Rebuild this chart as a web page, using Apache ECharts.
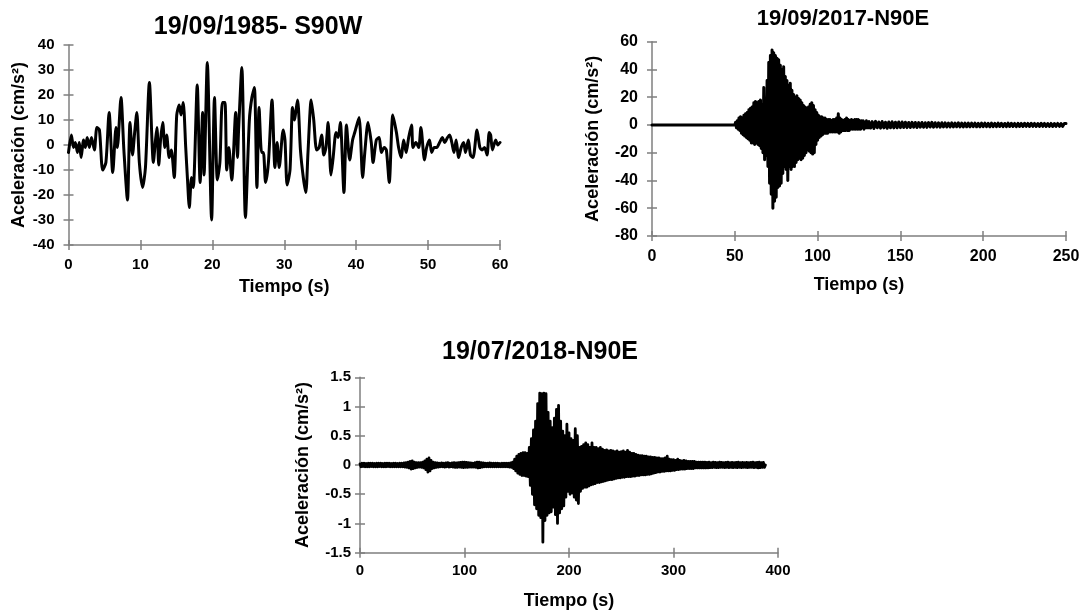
<!DOCTYPE html>
<html>
<head>
<meta charset="utf-8">
<title>Acelerogramas</title>
<script src="https://cdn.jsdelivr.net/npm/echarts@6/dist/echarts.min.js"></script>
<style>
  html, body { margin: 0; padding: 0; background: #fff; }
  #chart { width: 1088px; height: 612px; }
</style>
</head>
<body>
<div id="chart"></div>
<script>
// ---- 19/09/1985 S90W : time (s) and acceleration (cm/s²) at each turning point ----
const time1985 = [
  0,0.4,0.7,0.95,1.25,1.5,1.75,2.1,2.35,2.6,
  2.9,3.2,3.6,3.95,4.3,4.75,5.2,5.65,6.15,6.6,
  6.8,7.3,7.7,8.2,8.55,8.9,9.2,9.5,9.85,10.3,
  10.7,11.25,11.8,12.1,12.3,12.55,12.8,13.1,13.4,13.65,
  14.0,14.3,14.7,15.05,15.4,15.65,15.95,16.3,16.55,16.8,
  17.1,17.35,17.9,18.3,18.65,18.85,19.3,19.9,20.3,20.7,
  21.05,21.4,21.75,22.0,22.3,22.7,23.25,23.5,23.65,24.1,
  24.6,25.15,25.5,25.85,26.2,26.5,26.85,27.1,27.4,27.8,
  28.3,28.7,29.0,29.3,29.85,30.1,30.4,30.8,31.15,31.4,
  31.85,32.25,32.65,33.0,33.3,33.75,34.1,34.5,34.85,35.2,
  35.5,35.8,36.1,36.5,36.8,37.2,37.5,37.8,38.3,38.65,
  39.1,39.5,39.8,40.4,40.9,41.2,41.65,42.1,42.35,42.8,
  43.2,43.5,43.9,44.2,44.6,45.1,45.6,45.9,46.25,46.6,
  46.95,47.3,47.7,47.9,48.3,48.7,49.0,49.5,49.8,50.2,
  50.5,50.85,51.2,51.6,52.0,52.3,52.7,53.0,53.3,53.6,
  53.9,54.25,54.6,54.95,55.2,55.6,55.9,56.25,56.8,57.2,
  57.5,57.85,58.2,58.5,58.7,58.95,59.4,59.7,60
];
const acc1985 = [
  -3,4,-1,1,-3,1,-5,2,-1,3,
  -1,3,-2,7,6,-10,-7,13,-11,7,
  -1,19,-2,-22,9,-4,5,13,-7,-17,
  -9,25,-7,2,7,-8,2,9,-1,4,
  -5,-2,-13,12,16,12,17,-1,-14,-25,
  -13,-17,24,-15,13,-12,33,-30,19,-14,
  -7,17,17,-10,-1,-14,13,-5,6,31,
  -29,10,19,23,-17,15,-3,-3,-15,-7,
  18,-9,1,-9,6,2,-16,-10,15,10,
  18,-2,-13,-19,-3,18,10,-2,-1,4,
  -4,-1,9,-12,-5,5,3,9,-19,8,
  -6,2,5,11,-13,-3,9,1,-7,2,
  3,-3,-1,-2,-15,12,5,-1,-5,2,
  -3,3,8,-1,1,-1,7,-6,-1,2,
  -3,-1,-1,1,3,1,3,4,1,-3,
  2,-5,-1,1,-3,2,-4,-5,6,-1,
  -2,-1,-4,5,4,-2,2,0,1
];

// ---- 19/09/2017 N90E : peak values, evenly sampled per record segment ----
// before arrival: 0 and 50 s
const acc2017Pre = [0, 0];
// strong motion: 50.5–130.5 s, every 0.5 s
const acc2017Main = [
  2,-2, 3,-3, 5,-4, 6,-6, 5,-7, 7,-8, 8,-9, 9,-10, 11,-11, 12,-13,
  13,-13, 16,-14, 17,-13, 16,-14, 17,-15, 18,-17, 15,-20, 27,-25, 16,-22, 32,-30,
  45,-42, 50,-50, 54,-60, 52,-55, 50,-52, 48,-45, 47,-44, 43,-42, 40,-35, 42,-30,
  35,-32, 32,-40, 28,-30, 30,-32, 25,-30, 22,-30, 20,-27, 21,-25, 19,-24, 18,-25,
  16,-24, 14,-22, 13,-20, 12,-18, 13,-19, 15,-20, 16,-21, 14,-20, 11,-14, 9,-11,
  7,-9, 6,-8, 6,-7, 5,-6, 5,-6, 4,-6, 4,-5, 4,-5, 3,-5, 4,-5,
  4,-5, 5,-5, 8,-6, 5,-5, 4,-4, 3,-4, 4,-4, 5,-4, 4,-4, 3,-3,
  4,-3, 3,-3, 4,-3, 4,-3, 4,-3, 3,-3, 3,-2, 3,-3, 2,-2, 3,-2,
  2,-2
];
// coda: 131–250 s, every 1 s
const acc2017Coda = [
  2.5,-2.2,2.4,-2.5,2.6,-2,2.2,-2.3,2.5,-2.1,2,-2.4,2.2,-2,2.3,-2.1,2,-2,2.2,-1.9,
  2.1,-1.8,2,-1.9,1.8,-1.8,1.9,-1.7,1.8,-1.8,1.7,-1.6,1.8,-1.7,1.6,-1.7,1.7,-1.5,1.9,-1.6,
  1.6,-1.5,1.5,-1.6,1.6,-1.4,1.5,-1.5,1.4,-1.5,1.5,-1.4,1.4,-1.3,1.5,-1.4,1.3,-1.4,1.4,-1.3,
  1.3,-1.3,1.4,-1.2,1.3,-1.3,1.2,-1.3,1.4,-1.2,1.3,-1.2,1.2,-1.3,1.3,-1.2,1.2,-1.2,1.3,-1.1,
  1.2,-1.2,1.1,-1.2,1.3,-1.1,1.2,-1.1,1.1,-1.2,1.2,-1.1,1.1,-1.1,1.2,-1,1.1,-1.1,1.2,-1,
  1.1,-1.1,1,-1.1,1.2,-1,1.1,-1.1,1,-1,1.1,-1.1,1,-1,1.1,-1,1,-1,1.1,1
];

// ---- 19/07/2018 N90E : peak values, evenly sampled per record segment ----
// before arrival: 0–147 s, every 1 s
const acc2018Pre = [
  0.02,-0.03,0.03,-0.025,0.03,-0.03,0.025,-0.03,0.03,-0.03,0.03,-0.025,0.03,-0.03,0.025,-0.03,0.03,-0.03,0.03,-0.025,
  0.03,-0.03,0.025,-0.03,0.03,-0.03,0.03,-0.025,0.03,-0.03,0.025,-0.03,0.03,-0.03,0.03,-0.03,0.025,-0.03,0.03,-0.03,
  0.03,-0.03,0.035,-0.035,0.04,-0.04,0.05,-0.05,0.06,-0.07,0.07,-0.06,0.05,-0.05,0.04,-0.04,0.04,-0.035,0.04,-0.04,
  0.05,-0.05,0.07,-0.08,0.1,-0.12,0.12,-0.1,0.08,-0.06,0.05,-0.05,0.04,-0.04,0.035,-0.035,0.03,-0.03,0.035,-0.03,
  0.03,-0.035,0.035,-0.03,0.04,-0.035,0.03,-0.03,0.035,-0.035,0.04,-0.04,0.035,-0.04,0.04,-0.035,0.045,-0.04,0.05,-0.045,
  0.05,-0.04,0.045,-0.04,0.04,-0.035,0.035,-0.035,0.03,-0.035,0.04,-0.04,0.05,-0.05,0.05,-0.045,0.04,-0.035,0.035,-0.03,
  0.03,-0.03,0.03,-0.03,0.035,-0.03,0.03,-0.03,0.03,-0.03,0.03,-0.03,0.03,-0.03,0.025,-0.03,0.03,-0.03,0.03,-0.03,
  0.03,-0.03,0.03,-0.035,0.035,-0.04,0.05,-0.06
];
// strong motion: 148–329 s, every 1 s
const acc2018Main = [
  0.1,-0.1, 0.15,-0.14, 0.18,-0.16, 0.2,-0.18, 0.21,-0.18, 0.21,-0.19, 0.2,-0.2, 0.3,-0.35, 0.45,-0.5, 0.6,-0.68,
  0.75,-0.75, 1.05,-0.86, 1.23,-0.9, 1.22,-1.32, 1.23,-0.95, 1.22,-0.86, 0.9,-0.82, 0.75,-0.8, 0.64,-0.72, 0.8,-0.85,
  0.95,-1.0, 1.02,-0.82, 0.75,-0.75, 0.58,-0.7, 0.5,-0.55, 0.7,-0.45, 0.55,-0.5, 0.45,-0.48, 0.42,-0.55, 0.62,-0.6,
  0.5,-0.66, 0.3,-0.45, 0.32,-0.4, 0.35,-0.38, 0.38,-0.38, 0.35,-0.36, 0.3,-0.34, 0.38,-0.33, 0.3,-0.32, 0.3,-0.3,
  0.28,-0.3, 0.3,-0.29, 0.27,-0.28, 0.25,-0.27, 0.26,-0.26, 0.24,-0.25, 0.25,-0.25, 0.24,-0.24, 0.23,-0.23, 0.24,-0.22,
  0.22,-0.22, 0.23,-0.21, 0.24,-0.21, 0.22,-0.2, 0.25,-0.2, 0.22,-0.2, 0.2,-0.19, 0.2,-0.19, 0.18,-0.18, 0.17,-0.18,
  0.16,-0.17, 0.16,-0.17, 0.15,-0.17, 0.15,-0.16, 0.14,-0.16, 0.14,-0.15, 0.13,-0.14, 0.13,-0.13, 0.12,-0.12, 0.12,-0.12,
  0.11,-0.11, 0.11,-0.11, 0.12,-0.1, 0.15,-0.1, 0.1,-0.1, 0.09,-0.09, 0.09,-0.09, 0.08,-0.08, 0.1,-0.08, 0.08,-0.07,
  0.07,-0.07, 0.08,-0.07, 0.07,-0.06, 0.06,-0.06, 0.06,-0.06, 0.06,-0.06, 0.06,-0.05, 0.05,-0.05, 0.05,-0.05, 0.05,-0.05,
  0.05,-0.05
];
// coda: 330–388 s, every 1 s
const acc2018Coda = [
  0.05,-0.05,0.045,-0.05,0.05,-0.045,0.04,-0.045,0.05,-0.04,0.045,-0.045,0.04,-0.045,0.05,-0.04,0.045,-0.04,0.04,-0.045,
  0.045,-0.04,0.05,-0.045,0.04,-0.04,0.045,-0.045,0.04,-0.04,0.045,-0.045,0.05,-0.04,0.04,-0.045,0.045,-0.04,0.04,-0.04,
  0.045,-0.045,0.04,-0.04,0.045,-0.04,0.05,-0.045,0.04,-0.04,0.045,-0.05,0.05,-0.045,0.04,-0.04,0.045,-0.04,0.0
];

// ---- axis ranges / ticks ----
const panels = [
  { title: '19/09/1985- S90W', xMax: 60,  xStep: 10,  yMin: -40,  yMax: 40,  yStep: 10 },
  { title: '19/09/2017-N90E',  xMax: 250, xStep: 50,  yMin: -80,  yMax: 60,  yStep: 20 },
  { title: '19/07/2018-N90E',  xMax: 400, xStep: 100, yMin: -1.5, yMax: 1.5, yStep: 0.5 }
];
const xName = 'Tiempo (s)';
const yName = 'Aceleración (cm/s²)';

// pair evenly sampled segments with their times
function segment(t0, dt, values) {
  return values.map((v, i) => [+(t0 + i * dt).toFixed(3), v]);
}
const data1985 = time1985.map((t, i) => [t, acc1985[i]]);
const data2017 = [].concat(
  segment(0, 50, acc2017Pre),
  segment(50.5, 0.5, acc2017Main),
  segment(131, 1, acc2017Coda)
);
const data2018 = [].concat(
  segment(0, 1, acc2018Pre),
  segment(148, 1, acc2018Main),
  segment(330, 1, acc2018Coda)
);

// ---- layout & style ----
const FONT = '"Liberation Sans", Arial, Helvetica, sans-serif';
const GREY = '#7f7f7f';
const layout = [
  { grid: { left: 68.5, right: 588, top: 45, bottom: 367 },    title: [258, 27.5, 25], tick: 15, yMargin: 14, xMargin: 12, yGap: 40, xGap: 33 },
  { grid: { left: 652, right: 22, top: 41.7, bottom: 376 },    title: [843, 19, 22],   tick: 16, yMargin: 14, xMargin: 13, yGap: 50, xGap: 40 },
  { grid: { left: 360, right: 310, top: 377.3, bottom: 59.3 }, title: [540, 352, 25],  tick: 15, yMargin: 9,  xMargin: 11, yGap: 48, xGap: 39 }
];

const grids = [], xAxes = [], yAxes = [], graphics = [];
panels.forEach((p, i) => {
  const L = layout[i];
  grids.push(Object.assign({ containLabel: false }, L.grid));
  const labelStyle = { color: '#000', fontFamily: FONT, fontWeight: 'bold', fontSize: L.tick };
  const nameStyle = { color: '#000', fontFamily: FONT, fontWeight: 'bold', fontSize: 18 };
  const lineStyle = { color: GREY, width: 1.5 };
  // main axes: line, labels, outward ticks
  xAxes.push({
    type: 'value', gridIndex: i, min: 0, max: p.xMax, interval: p.xStep, position: 'bottom',
    name: xName, nameLocation: 'middle', nameGap: L.xGap, nameTextStyle: nameStyle,
    axisLine: { onZero: false, lineStyle }, axisTick: { length: 5, lineStyle },
    axisLabel: Object.assign({ margin: L.xMargin }, labelStyle), splitLine: { show: false }
  });
  // companion axes: inward ticks so each tick crosses the axis line
  xAxes.push({
    type: 'value', gridIndex: i, min: 0, max: p.xMax, interval: p.xStep, position: 'bottom',
    axisLine: { show: false, onZero: false }, axisTick: { inside: true, length: 5, lineStyle },
    axisLabel: { show: false }, splitLine: { show: false }
  });
  yAxes.push({
    type: 'value', gridIndex: i, min: p.yMin, max: p.yMax, interval: p.yStep, position: 'left',
    name: yName, nameLocation: 'middle', nameGap: L.yGap, nameTextStyle: nameStyle,
    axisLine: { onZero: false, lineStyle }, axisTick: { length: 5, lineStyle },
    axisLabel: Object.assign({ margin: L.yMargin }, labelStyle), splitLine: { show: false }
  });
  yAxes.push({
    type: 'value', gridIndex: i, min: p.yMin, max: p.yMax, interval: p.yStep, position: 'left',
    axisLine: { show: false, onZero: false }, axisTick: { inside: true, length: 5, lineStyle },
    axisLabel: { show: false }, splitLine: { show: false }
  });
  graphics.push({
    type: 'text', x: L.title[0], y: L.title[1], silent: true,
    style: { text: p.title, fill: '#000', fontFamily: FONT, fontWeight: 'bold', fontSize: L.title[2], align: 'center', verticalAlign: 'middle' }
  });
});

function trace(idx, data, width, smooth) {
  return {
    type: 'line', xAxisIndex: idx * 2, yAxisIndex: idx * 2, data,
    showSymbol: false, symbol: 'none', silent: true, clip: true, smooth: smooth || false,
    lineStyle: { color: '#000', width, join: 'round', cap: 'round' }
  };
}

const chart = echarts.init(document.getElementById('chart'), null, { renderer: 'canvas' });
chart.setOption({
  backgroundColor: '#fff',
  animation: false,
  grid: grids,
  xAxis: xAxes,
  yAxis: yAxes,
  graphic: graphics,
  series: [
    trace(0, data1985, 3, 0.25),
    trace(1, data2017, 3),
    trace(2, data2018, 2.8)
  ]
});
</script>
</body>
</html>
